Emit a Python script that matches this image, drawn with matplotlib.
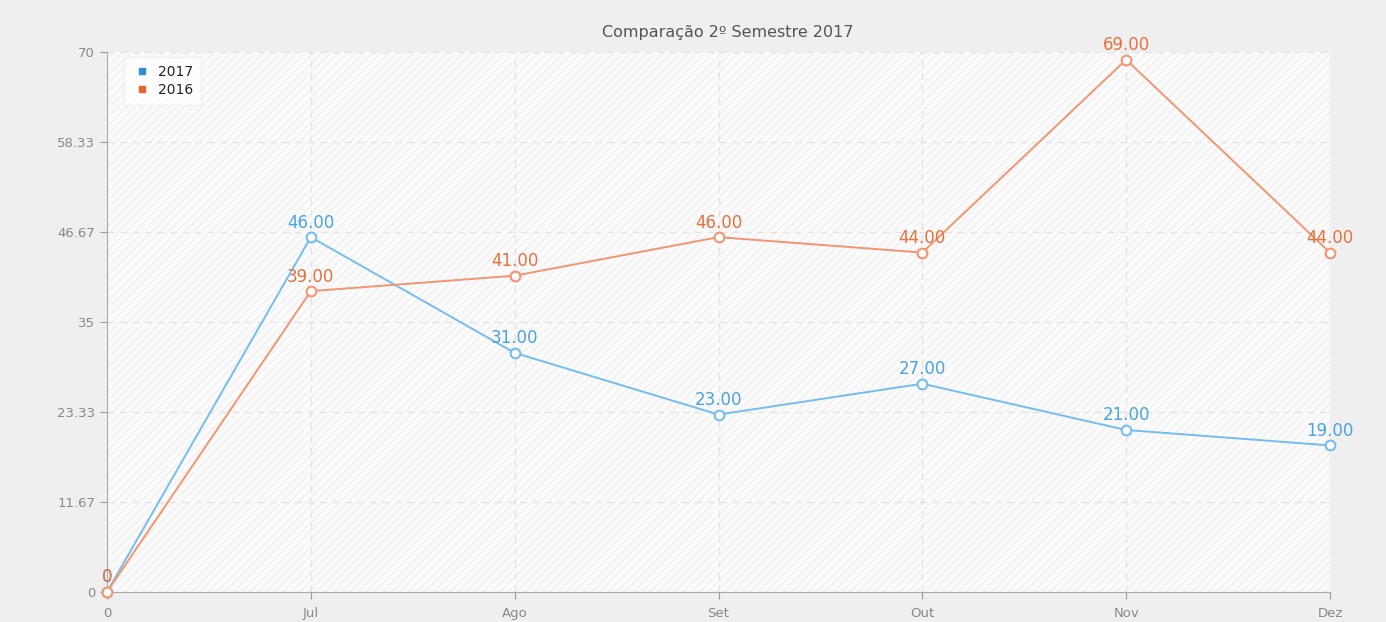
import matplotlib
matplotlib.use("Agg")
import matplotlib.pyplot as plt
from matplotlib.patches import Rectangle
from matplotlib.lines import Line2D

categories = ["0", "Jul", "Ago", "Set", "Out", "Nov", "Dez"]
values_2017 = [0, 46, 31, 23, 27, 21, 19]
values_2016 = [0, 39, 41, 46, 44, 69, 44]
labels_2017 = ["0", "46.00", "31.00", "23.00", "27.00", "21.00", "19.00"]
labels_2016 = ["0", "39.00", "41.00", "46.00", "44.00", "69.00", "44.00"]
yticks = [0, 11.67, 23.33, 35, 46.67, 58.33, 70]
ytick_labels = ["0", "11.67", "23.33", "35", "46.67", "58.33", "70"]
title = "Comparação 2º Semestre 2017"

plt.rcParams['font.family'] = ['DejaVu Sans']

fig = plt.figure(figsize=(13.86, 6.22), dpi=100)
fig.patch.set_facecolor("#efefef")
ax = fig.add_axes([107/1386, 1-592/622, (1330-107)/1386, (592-52)/622])
ax.set_facecolor("#fbfbfb")
bg = Rectangle((0, 0), 1, 1, transform=ax.transAxes, facecolor="none",
               edgecolor="#f1f1f1", hatch="////", linewidth=0, zorder=0)
ax.add_patch(bg)

x = list(range(len(categories)))
c17_line, c17_text = "#74bdf0", "#4aa3e2"
c16_line, c16_text = "#f29570", "#e5713f"

ax.plot(x, values_2017, color=c17_line, lw=1.4, marker="o", ms=7,
        mfc="white", mec=c17_line, mew=1.5, zorder=4, clip_on=False)
ax.plot(x, values_2016, color=c16_line, lw=1.4, marker="o", ms=7,
        mfc="white", mec=c16_line, mew=1.5, zorder=5, clip_on=False)

for xi, v, lab in zip(x, values_2017, labels_2017):
    ax.annotate(lab, (xi, v), xytext=(0, 4), textcoords="offset points",
                ha="center", va="bottom", color=c17_text, fontsize=12, zorder=6,
                annotation_clip=False)
for xi, v, lab in zip(x, values_2016, labels_2016):
    ax.annotate(lab, (xi, v), xytext=(0, 4), textcoords="offset points",
                ha="center", va="bottom", color=c16_text, fontsize=12, zorder=7,
                annotation_clip=False)

ax.set_xlim(0, len(categories) - 1)
ax.set_ylim(0, 70)
ax.set_xticks(x)
ax.set_xticklabels(categories)
ax.set_yticks(yticks)
ax.set_yticklabels(ytick_labels)
ax.tick_params(colors="#999999", labelcolor="#888888", labelsize=9.5, length=5)
ax.tick_params(axis="x", pad=6)
ax.grid(True, color="#e3e3e3", linestyle=(0, (5, 4)), lw=1)
ax.set_axisbelow(True)
for s in ["top", "right"]:
    ax.spines[s].set_visible(False)
for s in ["left", "bottom"]:
    ax.spines[s].set_color("#aaaaaa")

fig.text(728/1386, 1-32/622, title, ha="center", va="center",
         fontsize=11.5, color="#555555")

handles = [Line2D([], [], marker="s", ls="none", color="#2d90dd", ms=5),
           Line2D([], [], marker="s", ls="none", color="#e5652c", ms=5)]
leg = ax.legend(handles, ["2017", "2016"], loc="upper left",
                bbox_to_anchor=(0.012, 0.995), fontsize=10, frameon=True,
                handletextpad=0.5, borderpad=0.55, labelspacing=0.3,
                borderaxespad=0.2, fancybox=True, handlelength=1.4)
leg.get_frame().set_facecolor("white")
leg.get_frame().set_edgecolor("#eeeeee")
for t in leg.get_texts():
    t.set_color("#222222")

fig.savefig("out.png", dpi=100, facecolor=fig.get_facecolor())
